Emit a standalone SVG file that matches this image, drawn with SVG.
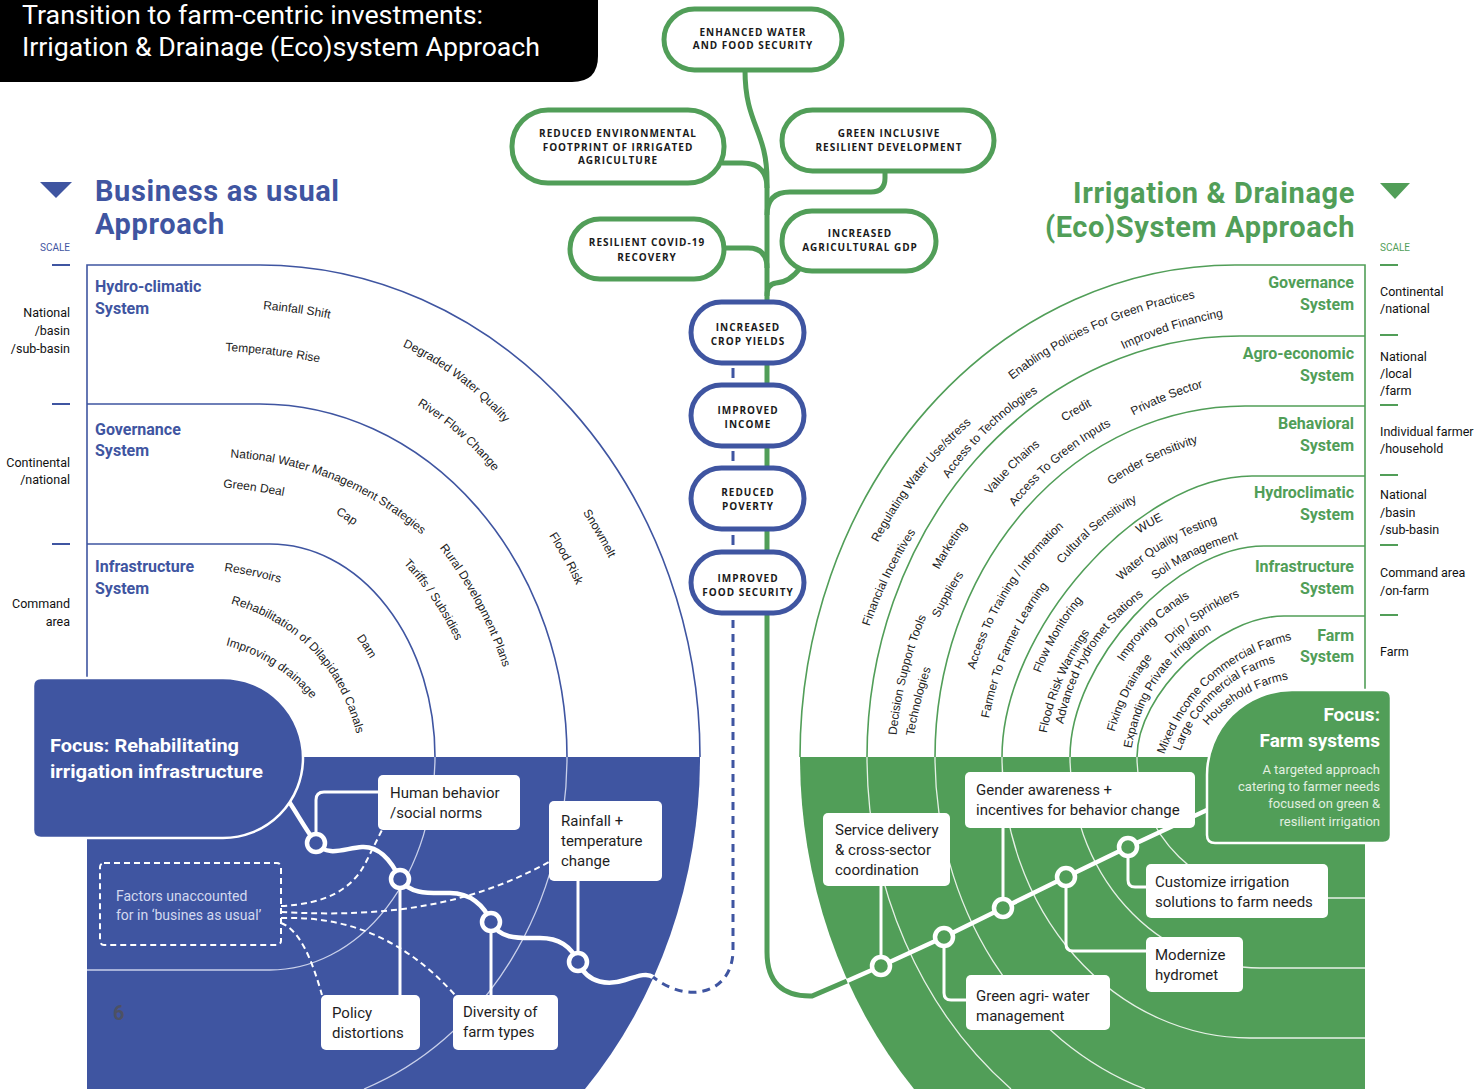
<svg xmlns="http://www.w3.org/2000/svg" xmlns:xlink="http://www.w3.org/1999/xlink" width="1474" height="1089" viewBox="0 0 1474 1089">
<style>
.ttl{font-family:Roboto,"Liberation Sans",sans-serif;font-size:26px;fill:#fff}
.hb{font-family:Roboto,"Liberation Sans",sans-serif;font-weight:700;font-size:29px;letter-spacing:0.6px}
.fb{fill:#3f55a1}
.fg{fill:#519e58}
.sys{font-family:Roboto,"Liberation Sans",sans-serif;font-weight:700;font-size:16px}
.end{text-anchor:end}
.sc{font-family:Roboto,"Liberation Sans",sans-serif;font-size:12.5px;fill:#111}
.scl{font-family:Roboto,"Liberation Sans",sans-serif;font-size:10px}
.lbl{font-family:"Liberation Sans",Arial,sans-serif;font-size:12px;fill:#222;text-anchor:middle}
.pill{font-family:"Open Sans","Liberation Sans",sans-serif;font-weight:700;font-size:10px;letter-spacing:1px;fill:#1a1a1a;text-anchor:middle}
.bt{font-family:Roboto,"Liberation Sans",sans-serif;font-size:15px;fill:#1e1e1e}
.pg{fill:#fff;stroke-width:5;stroke:#519e58}
.pb{fill:#fff;stroke-width:5;stroke:#3f55a1}
.box{fill:#fff}
.arcb{fill:none;stroke:#3f55a1;stroke-width:1.6}
.arcg{fill:none;stroke:#519e58;stroke-width:1.6}
.lb{fill:none;stroke:#c9d0ea;stroke-width:1.3}
.lg{fill:none;stroke:#e6f1e6;stroke-width:1.3}
.wl{fill:none;stroke:#fff;stroke-width:3}
.wd{fill:none;stroke:#fff;stroke-width:2;stroke-dasharray:6 4}
.nb{fill:#3f55a1;stroke:#fff;stroke-width:4.5}
.ng{fill:#519e58;stroke:#fff;stroke-width:4.5}
.stem{fill:none;stroke:#519e58;stroke-width:5}
.tick{stroke-width:2}
</style>
<defs>
<path id="r130" d="M-130,69 Q0,-61 130,69"/>
<path id="r160" d="M-130,57 Q0,-49 130,57"/>
<path id="r200" d="M-130,46 Q0,-38 130,46"/>
<path id="r250" d="M-130,38 Q0,-30 130,38"/>
<path id="r300" d="M-130,32 Q0,-24 130,32"/>
<path id="r400" d="M-130,25 Q0,-17 130,25"/>
<path id="r600" d="M-130,18 Q0,-10 130,18"/>
</defs>

<g id="title">
<path d="M0,0 H598 V56 Q598,82 572,82 H0 Z" fill="#000"/>
<text class="ttl" x="22" y="24" font-size="24" textLength="461" lengthAdjust="spacingAndGlyphs">Transition to farm-centric investments:</text>
<text class="ttl" x="22" y="56" textLength="518" lengthAdjust="spacingAndGlyphs">Irrigation &amp; Drainage (Eco)system Approach</text>
</g>

<!-- LEFT PANEL -->
<g id="bau-heading">
<polygon points="40,182 72,182 56,198" class="fb"/>
<text class="hb fb" x="95" y="201">Business as usual</text>
<text class="hb fb" x="95" y="234">Approach</text>
<text class="scl fb" x="40" y="251">SCALE</text>
</g>
<g id="bau-scale">
<path class="tick" stroke="#3f55a1" d="M52,265 H70 M52,404 H70 M52,544 H70"/>
<text class="sc end" x="70" y="317">National</text>
<text class="sc end" x="70" y="335">/basin</text>
<text class="sc end" x="70" y="353">/sub-basin</text>
<text class="sc end" x="70" y="467">Continental</text>
<text class="sc end" x="70" y="484">/national</text>
<text class="sc end" x="70" y="608">Command</text>
<text class="sc end" x="70" y="626">area</text>
</g>
<g id="bau-rings">
<path d="M87,757 H700 A440,492 0 0 1 585,1089 H87 Z" class="fb"/>
<path class="arcb" d="M87,757 V265 H260 A440,492 0 0 1 700,757"/>
<path class="arcb" d="M87,404 H260 A307,353 0 0 1 567,757"/>
<path class="arcb" d="M87,544 H270 A165,213 0 0 1 435,757"/>
<path class="lb" d="M567,757 A307,353 0 0 1 364,1089"/>
<path class="lb" d="M435,757 A165,213 0 0 1 270,970 H87"/>
</g>
<g id="bau-systems">
<text class="sys fb" x="95" y="292">Hydro-climatic</text>
<text class="sys fb" x="95" y="314">System</text>
<text class="sys fb" x="95" y="435">Governance</text>
<text class="sys fb" x="95" y="456">System</text>
<text class="sys fb" x="95" y="572">Infrastructure</text>
<text class="sys fb" x="95" y="594">System</text>
</g>
<g id="bau-labels">
<text class="lbl" transform="translate(297,309) rotate(8)"><textPath xlink:href="#r600" startOffset="50%">Rainfall Shift</textPath></text>
<text class="lbl" transform="translate(273,351) rotate(7)"><textPath xlink:href="#r600" startOffset="50%">Temperature Rise</textPath></text>
<text class="lbl" transform="translate(460,376) rotate(37)"><textPath xlink:href="#r300" startOffset="50%">Degraded Water Quality</textPath></text>
<text class="lbl" transform="translate(461,432) rotate(41)"><textPath xlink:href="#r300" startOffset="50%">River Flow Change</textPath></text>
<text class="lbl" transform="translate(600,533) rotate(60)"><textPath xlink:href="#r400" startOffset="50%">Snowmelt</textPath></text>
<text class="lbl" transform="translate(567,558) rotate(61)"><textPath xlink:href="#r400" startOffset="50%">Flood Risk</textPath></text>
<text class="lbl" transform="translate(334,476) rotate(22)"><textPath xlink:href="#r300" startOffset="50%">National Water Management Strategies</textPath></text>
<text class="lbl" transform="translate(254,487) rotate(8)"><textPath xlink:href="#r600" startOffset="50%">Green Deal</textPath></text>
<text class="lbl" transform="translate(347,516) rotate(33)"><textPath xlink:href="#r400" startOffset="50%">Cap</textPath></text>
<text class="lbl" transform="translate(480,603) rotate(62)"><textPath xlink:href="#r400" startOffset="50%">Rural Development Plans</textPath></text>
<text class="lbl" transform="translate(436,598) rotate(56)"><textPath xlink:href="#r300" startOffset="50%">Tariffs / Subsidies</textPath></text>
<text class="lbl" transform="translate(253,572) rotate(12)"><textPath xlink:href="#r400" startOffset="50%">Reservoirs</textPath></text>
<text class="lbl" transform="translate(315,648) rotate(46)"><textPath xlink:href="#r160" startOffset="50%">Rehabilitation of Dilapidated Canals</textPath></text>
<text class="lbl" transform="translate(367,646) rotate(57)"><textPath xlink:href="#r400" startOffset="50%">Dam</textPath></text>
<text class="lbl" transform="translate(275,662) rotate(32)"><textPath xlink:href="#r160" startOffset="50%">Improving drainage</textPath></text>
</g>

<!-- RIGHT PANEL -->
<g id="ide-heading">
<polygon points="1380,183 1410,183 1395,199" class="fg"/>
<text class="hb fg end" x="1355" y="203">Irrigation &amp; Drainage</text>
<text class="hb fg end" x="1355" y="237">(Eco)System Approach</text>
<text class="scl fg" x="1380" y="251">SCALE</text>
</g>
<g id="ide-scale">
<path class="tick" stroke="#519e58" d="M1380,265 H1398 M1380,335 H1398 M1380,405 H1398 M1380,475 H1398 M1380,545 H1398 M1380,615 H1398"/>
<text class="sc" x="1380" y="296">Continental</text>
<text class="sc" x="1380" y="313">/national</text>
<text class="sc" x="1380" y="361">National</text>
<text class="sc" x="1380" y="378">/local</text>
<text class="sc" x="1380" y="395">/farm</text>
<text class="sc" x="1380" y="436">Individual farmer</text>
<text class="sc" x="1380" y="453">/household</text>
<text class="sc" x="1380" y="499">National</text>
<text class="sc" x="1380" y="517">/basin</text>
<text class="sc" x="1380" y="534">/sub-basin</text>
<text class="sc" x="1380" y="577">Command area</text>
<text class="sc" x="1380" y="595">/on-farm</text>
<text class="sc" x="1380" y="656">Farm</text>
</g>
<g id="ide-rings">
<path d="M1365,757 H800 A435,492 0 0 0 914,1089 H1365 Z" class="fg"/>
<path class="arcg" d="M1365,757 V265 H1235 A435,492 0 0 0 800,757"/>
<path class="arcg" d="M1365,336 H1240 A373,421 0 0 0 867,757"/>
<path class="arcg" d="M1365,406 H1245 A310,351 0 0 0 935,757"/>
<path class="arcg" d="M1365,476 H1252 C1138,476 1002,631 1002,757"/>
<path class="arcg" d="M1365,546 H1264 C1176,546 1070,662 1070,757"/>
<path class="arcg" d="M1365,616 H1284 C1218,616 1137,694 1137,757"/>
<path class="lg" d="M867,757 A373,421 0 0 0 1011,1089"/>
<path class="lg" d="M935,757 A310,351 0 0 0 1145,1089"/>
<path class="lg" d="M1002,757 A248,281 0 0 0 1250,1038 H1365"/>
<path class="lg" d="M1070,757 A190,211 0 0 0 1260,968 H1365"/>
<path class="lg" d="M1137,757 A143,141 0 0 0 1280,898 H1365"/>
</g>
<g id="ide-systems">
<text class="sys fg end" x="1354" y="288">Governance</text>
<text class="sys fg end" x="1354" y="310">System</text>
<text class="sys fg end" x="1354" y="359">Agro-economic</text>
<text class="sys fg end" x="1354" y="381">System</text>
<text class="sys fg end" x="1354" y="429">Behavioral</text>
<text class="sys fg end" x="1354" y="451">System</text>
<text class="sys fg end" x="1354" y="498">Hydroclimatic</text>
<text class="sys fg end" x="1354" y="520">System</text>
<text class="sys fg end" x="1354" y="572">Infrastructure</text>
<text class="sys fg end" x="1354" y="594">System</text>
<text class="sys fg end" x="1354" y="641">Farm</text>
<text class="sys fg end" x="1354" y="662">System</text>
</g>
<g id="ide-labels">
<text class="lbl" transform="translate(1097,324) rotate(-24)"><textPath xlink:href="#r400" startOffset="50%">Enabling Policies For Green Practices</textPath></text>
<text class="lbl" transform="translate(1171,326) rotate(-18)"><textPath xlink:href="#r400" startOffset="50%">Improved Financing</textPath></text>
<text class="lbl" transform="translate(916,476) rotate(-52)"><textPath xlink:href="#r400" startOffset="50%">Regulating Water Use/stress</textPath></text>
<text class="lbl" transform="translate(886,576) rotate(-64)"><textPath xlink:href="#r400" startOffset="50%">Financial Incentives</textPath></text>
<text class="lbl" transform="translate(986,428) rotate(-44)"><textPath xlink:href="#r300" startOffset="50%">Access to Technologies</textPath></text>
<text class="lbl" transform="translate(1076,410) rotate(-30)"><textPath xlink:href="#r400" startOffset="50%">Credit</textPath></text>
<text class="lbl" transform="translate(1166,396) rotate(-22)"><textPath xlink:href="#r400" startOffset="50%">Private Sector</textPath></text>
<text class="lbl" transform="translate(1011,466) rotate(-45)"><textPath xlink:href="#r300" startOffset="50%">Value Chains</textPath></text>
<text class="lbl" transform="translate(949,545) rotate(-57)"><textPath xlink:href="#r300" startOffset="50%">Marketing</textPath></text>
<text class="lbl" transform="translate(903,674) rotate(-76)"><textPath xlink:href="#r400" startOffset="50%">Decision Support Tools</textPath></text>
<text class="lbl" transform="translate(917,701) rotate(-76)"><textPath xlink:href="#r400" startOffset="50%">Technologies</textPath></text>
<text class="lbl" transform="translate(1056,458) rotate(-40)"><textPath xlink:href="#r300" startOffset="50%">Access To Green Inputs</textPath></text>
<text class="lbl" transform="translate(1151,457) rotate(-26)"><textPath xlink:href="#r300" startOffset="50%">Gender Sensitivity</textPath></text>
<text class="lbl" transform="translate(947,594) rotate(-60)"><textPath xlink:href="#r300" startOffset="50%">Suppliers</textPath></text>
<text class="lbl" transform="translate(1006,590) rotate(-58)"><textPath xlink:href="#r300" startOffset="50%">Access To Training / Information</textPath></text>
<text class="lbl" transform="translate(1007,647) rotate(-66)"><textPath xlink:href="#r300" startOffset="50%">Farmer To Farmer Learning</textPath></text>
<text class="lbl" transform="translate(1094,526) rotate(-40)"><textPath xlink:href="#r250" startOffset="50%">Cultural Sensitivity</textPath></text>
<text class="lbl" transform="translate(1149,523) rotate(-30)"><textPath xlink:href="#r250" startOffset="50%">WUE</textPath></text>
<text class="lbl" transform="translate(1164,543) rotate(-31)"><textPath xlink:href="#r250" startOffset="50%">Water Quality Testing</textPath></text>
<text class="lbl" transform="translate(1193,552) rotate(-26)"><textPath xlink:href="#r250" startOffset="50%">Soil Management</textPath></text>
<text class="lbl" transform="translate(1055,633) rotate(-60)"><textPath xlink:href="#r250" startOffset="50%">Flow Monitoring</textPath></text>
<text class="lbl" transform="translate(1059,679) rotate(-67)"><textPath xlink:href="#r250" startOffset="50%">Flood Risk Warnings</textPath></text>
<text class="lbl" transform="translate(1088,650) rotate(-58)"><textPath xlink:href="#r200" startOffset="50%">Advanced Hydromet Stations</textPath></text>
<text class="lbl" transform="translate(1150,623) rotate(-44)"><textPath xlink:href="#r200" startOffset="50%">Improving Canals</textPath></text>
<text class="lbl" transform="translate(1200,613) rotate(-34)"><textPath xlink:href="#r200" startOffset="50%">Drip / Sprinklers</textPath></text>
<text class="lbl" transform="translate(1126,691) rotate(-63)"><textPath xlink:href="#r200" startOffset="50%">Fixing Drainage</textPath></text>
<text class="lbl" transform="translate(1155,678) rotate(-56)"><textPath xlink:href="#r160" startOffset="50%">Expanding Private Irrigation</textPath></text>
<text class="lbl" transform="translate(1210,677) rotate(-42)"><textPath xlink:href="#r160" startOffset="50%">Mixed Income Commercial Farms</textPath></text>
<text class="lbl" transform="translate(1214,692) rotate(-43)"><textPath xlink:href="#r130" startOffset="50%">Large Commercial Farms</textPath></text>
<text class="lbl" transform="translate(1242,692) rotate(-30)"><textPath xlink:href="#r130" startOffset="50%">Household Farms</textPath></text>
</g>

<!-- CONNECTORS -->
<g id="connectors">
<path class="stem" d="M745,70 C745,125 767,130 767,180 V952 Q767,997 812,996 L847,981"/>
<path class="stem" d="M722,163 H742 Q767,163 767,188"/>
<path class="stem" d="M885,170 V178 Q885,192 871,192 H790 Q767,192 767,215"/>
<path class="stem" d="M723,248 H748 Q767,248 767,268"/>
<path class="stem" d="M800,268 Q790,282 776,283 Q767,284 767,296"/>
<path d="M733,368 V378 M733,451 V461 M733,535 V545" stroke="#3f55a1" stroke-width="3" fill="none"/>
<path d="M733,620 V950 C733,992 690,1006 653,977" stroke="#3f55a1" stroke-width="3" fill="none" stroke-dasharray="8 6"/>
<path fill="none" stroke="#fff" stroke-width="4.5" d="M288,800 C298,815 306,830 316,843 C328,858 345,848 362,847 C380,846 392,862 400,879 C410,895 430,893 450,893 C470,893 484,905 491,922 C500,940 520,938 540,938 C560,938 572,948 578,962 C588,985 610,985 625,980 C640,975 648,973 653,977"/>
<path class="wl" d="M316,834 V800 Q316,792 324,792 H378"/>
<path class="wl" d="M400,888 V995"/>
<path class="wl" d="M491,931 V995"/>
<path class="wl" d="M578,953 V881"/>
<path class="wd" d="M281,906 C325,904 352,890 366,862 L382,830"/>
<path class="wd" d="M281,912 C390,918 470,905 549,862"/>
<path class="wd" d="M281,918 C350,916 405,940 455,995"/>
<path class="wd" d="M281,923 C300,930 312,960 322,995"/>
<path fill="none" stroke="#fff" stroke-width="4.5" d="M847,981 L881,966 L944,937 L1003,908 L1066,877 L1128,847 L1207,810"/>
<path class="wl" d="M881,957 V886"/>
<path class="wl" d="M944,946 V993 Q944,1000 951,1000 H966"/>
<path class="wl" d="M1003,899 V828"/>
<path class="wl" d="M1066,886 V944 Q1066,951 1073,951 H1146"/>
<path class="wl" d="M1128,856 V880 Q1128,887 1135,887 H1146"/>
</g>

<!-- OUTCOME NODES -->
<g id="n-enhanced"><rect class="pg" x="664" y="9" width="178" height="61" rx="30.5"/><text class="pill" x="753" y="36">ENHANCED WATER</text><text class="pill" x="753" y="49">AND FOOD SECURITY</text></g>
<g id="n-footprint"><rect class="pg" x="512" y="110" width="212" height="73" rx="36"/><text class="pill" x="618" y="137">REDUCED ENVIRONMENTAL</text><text class="pill" x="618" y="151">FOOTPRINT OF IRRIGATED</text><text class="pill" x="618" y="164">AGRICULTURE</text></g>
<g id="n-green-dev"><rect class="pg" x="782" y="110" width="212" height="61" rx="30.5"/><text class="pill" x="889" y="137">GREEN INCLUSIVE</text><text class="pill" x="889" y="151">RESILIENT DEVELOPMENT</text></g>
<g id="n-covid"><rect class="pg" x="570" y="219" width="154" height="60" rx="30"/><text class="pill" x="647" y="246">RESILIENT COVID-19</text><text class="pill" x="647" y="261">RECOVERY</text></g>
<g id="n-gdp"><rect class="pg" x="782" y="211" width="154" height="60" rx="30"/><text class="pill" x="860" y="237">INCREASED</text><text class="pill" x="860" y="251">AGRICULTURAL GDP</text></g>
<g id="n-yields"><rect class="pb" x="691" y="302" width="113" height="61" rx="30.5"/><text class="pill" x="748" y="331">INCREASED</text><text class="pill" x="748" y="345">CROP YIELDS</text></g>
<g id="n-income"><rect class="pb" x="691" y="385" width="113" height="61" rx="30.5"/><text class="pill" x="748" y="414">IMPROVED</text><text class="pill" x="748" y="428">INCOME</text></g>
<g id="n-poverty"><rect class="pb" x="691" y="468" width="113" height="61" rx="30.5"/><text class="pill" x="748" y="496">REDUCED</text><text class="pill" x="748" y="510">POVERTY</text></g>
<g id="n-food"><rect class="pb" x="691" y="552" width="113" height="61" rx="30.5"/><text class="pill" x="748" y="582">IMPROVED</text><text class="pill" x="748" y="596">FOOD SECURITY</text></g>

<!-- LEFT FOCUS + FACTORS -->
<g id="n-focus-bau">
<path d="M41,678 H223 A80,80 0 0 1 303,758 A80,80 0 0 1 223,838 H41 Q33,838 33,830 V686 Q33,678 41,678 Z" class="fb" stroke="#fff" stroke-width="2.5"/>
<text x="50" y="752" font-family="Roboto,'Liberation Sans',sans-serif" font-weight="700" font-size="19" fill="#fff" textLength="189" lengthAdjust="spacingAndGlyphs">Focus: Rehabilitating</text>
<text x="50" y="778" font-family="Roboto,'Liberation Sans',sans-serif" font-weight="700" font-size="19" fill="#fff" textLength="213" lengthAdjust="spacingAndGlyphs">irrigation infrastructure</text>
</g>
<g id="n-factors">
<rect x="100" y="863" width="181" height="82" rx="4" fill="none" stroke="#fff" stroke-width="2" stroke-dasharray="6 4"/>
<text x="116" y="901" font-family="Roboto,'Liberation Sans',sans-serif" font-size="14" fill="#d3d9f0">Factors unaccounted</text>
<text x="116" y="920" font-family="Roboto,'Liberation Sans',sans-serif" font-size="14" fill="#d3d9f0">for in ‘busines as usual’</text>
</g>
<g id="n-human"><rect class="box" x="378" y="775" width="142" height="55" rx="5"/><text class="bt" x="390" y="798">Human behavior</text><text class="bt" x="390" y="818">/social norms</text></g>
<g id="n-rainfall"><rect class="box" x="549" y="801" width="113" height="80" rx="5"/><text class="bt" x="561" y="826">Rainfall +</text><text class="bt" x="561" y="846">temperature</text><text class="bt" x="561" y="866">change</text></g>
<g id="n-policy"><rect class="box" x="321" y="995" width="99" height="55" rx="5"/><text class="bt" x="332" y="1018">Policy</text><text class="bt" x="332" y="1038">distortions</text></g>
<g id="n-diversity"><rect class="box" x="453" y="995" width="105" height="55" rx="5"/><text class="bt" x="463" y="1017">Diversity of</text><text class="bt" x="463" y="1037">farm types</text></g>
<g id="bau-nodes">
<circle class="nb" cx="316" cy="843" r="9"/>
<circle class="nb" cx="400" cy="879" r="9"/>
<circle class="nb" cx="491" cy="922" r="9"/>
<circle class="nb" cx="578" cy="962" r="9"/>
</g>
<text x="113" y="1020" font-family="Roboto,'Liberation Sans',sans-serif" font-weight="700" font-size="20" fill="#4d5163">6</text>

<!-- RIGHT FOCUS + BOXES -->
<g id="n-focus-farm">
<path d="M1292,690 H1383 Q1391,690 1391,698 V835 Q1391,843 1383,843 H1215 Q1207,843 1207,835 V775 A85,85 0 0 1 1292,690 Z" class="fg" stroke="#fff" stroke-width="2.5"/>
<text class="end" x="1380" y="721" font-family="Roboto,'Liberation Sans',sans-serif" font-weight="700" font-size="19" fill="#fff">Focus:</text>
<text class="end" x="1380" y="747" font-family="Roboto,'Liberation Sans',sans-serif" font-weight="700" font-size="19" fill="#fff">Farm systems</text>
<text class="end" x="1380" y="774" font-family="Roboto,'Liberation Sans',sans-serif" font-size="13" fill="#e2efe0">A targeted approach</text>
<text class="end" x="1380" y="791" font-family="Roboto,'Liberation Sans',sans-serif" font-size="13" fill="#e2efe0">catering to farmer needs</text>
<text class="end" x="1380" y="808" font-family="Roboto,'Liberation Sans',sans-serif" font-size="13" fill="#e2efe0">focused on green &amp;</text>
<text class="end" x="1380" y="826" font-family="Roboto,'Liberation Sans',sans-serif" font-size="13" fill="#e2efe0">resilient irrigation</text>
</g>
<g id="n-service"><rect class="box" x="823" y="813" width="127" height="73" rx="5"/><text class="bt" x="835" y="835">Service delivery</text><text class="bt" x="835" y="855">&amp; cross-sector</text><text class="bt" x="835" y="875">coordination</text></g>
<g id="n-gender"><rect class="box" x="965" y="772" width="230" height="56" rx="5"/><text class="bt" x="976" y="795">Gender awareness +</text><text class="bt" x="976" y="815">incentives for behavior change</text></g>
<g id="n-customize"><rect class="box" x="1146" y="864" width="182" height="54" rx="5"/><text class="bt" x="1155" y="887">Customize irrigation</text><text class="bt" x="1155" y="907">solutions to farm needs</text></g>
<g id="n-hydromet"><rect class="box" x="1146" y="937" width="97" height="55" rx="5"/><text class="bt" x="1155" y="960">Modernize</text><text class="bt" x="1155" y="980">hydromet</text></g>
<g id="n-agriwater"><rect class="box" x="966" y="975" width="144" height="55" rx="5"/><text class="bt" x="976" y="1001">Green agri- water</text><text class="bt" x="976" y="1021">management</text></g>
<g id="ide-nodes">
<circle class="ng" cx="881" cy="966" r="9"/>
<circle class="ng" cx="944" cy="937" r="9"/>
<circle class="ng" cx="1003" cy="908" r="9"/>
<circle class="ng" cx="1066" cy="877" r="9"/>
<circle class="ng" cx="1128" cy="847" r="9"/>
</g>
</svg>
